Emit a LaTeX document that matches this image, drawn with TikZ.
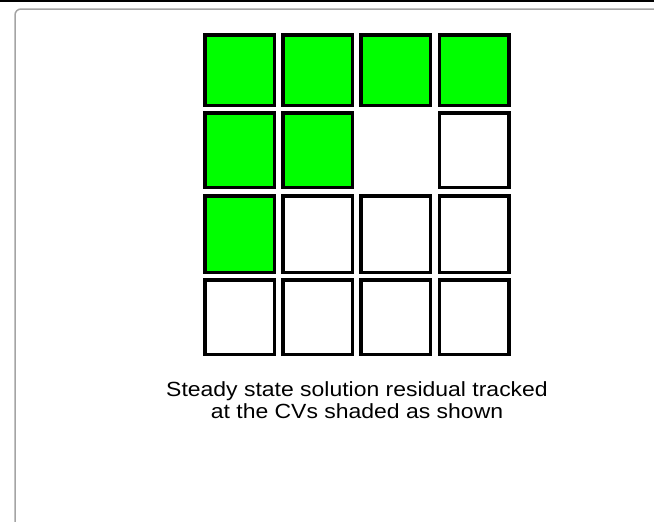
\documentclass[tikz,border=0pt]{standalone}
\usepackage{fontspec}
\setmainfont{Liberation Sans}
\newfontfamily\capfont[FakeStretch=1.12]{Liberation Sans}
\usetikzlibrary{positioning}
\definecolor{shaded}{HTML}{00FF00}
\definecolor{panel}{HTML}{A4A4A4}

\begin{document}
\begin{tikzpicture}[x=1pt, y=-1pt,
  cv/.style={draw=black, line width=3.5pt, minimum width=69.5pt,
    minimum height=#1, inner sep=0pt, outer sep=0pt},
  cvon/.style={cv=#1, fill=shaded},
  cvoff/.style={cv=#1, fill=white},
  cvgap/.style={cv=#1, draw=none}]
\useasboundingbox (0,0) rectangle (654,522);

% --- window frame ---
\fill[black] (0,0) rectangle (654,2);
\draw[panel, line width=1.5pt, rounded corners=6pt] (15,524) |- (656,9);

% --- control volumes (row / top / bottom / states) ---
\foreach \r/\yt/\yb/\states in {1/33/107/{cvon,cvon,cvon,cvon},
                                2/111/189/{cvon,cvon,cvgap,cvoff},
                                3/194/274/{cvon,cvoff,cvoff,cvoff},
                                4/278/356/{cvoff,cvoff,cvoff,cvoff}}
  \foreach \s [count=\c] in \states
    \node[\s={\yb-\yt-3.5}] (cv-\r-\c) at ({203+(\c-1)*78.2+36.5}, {(\yt+\yb)/2}) {};

% --- caption ---
\node[align=center, font=\capfont\fontsize{20.5}{22.5}\selectfont] (caption)
  at (357,400) {Steady state solution residual tracked\\at the CVs shaded as shown};
\end{tikzpicture}
\end{document}
